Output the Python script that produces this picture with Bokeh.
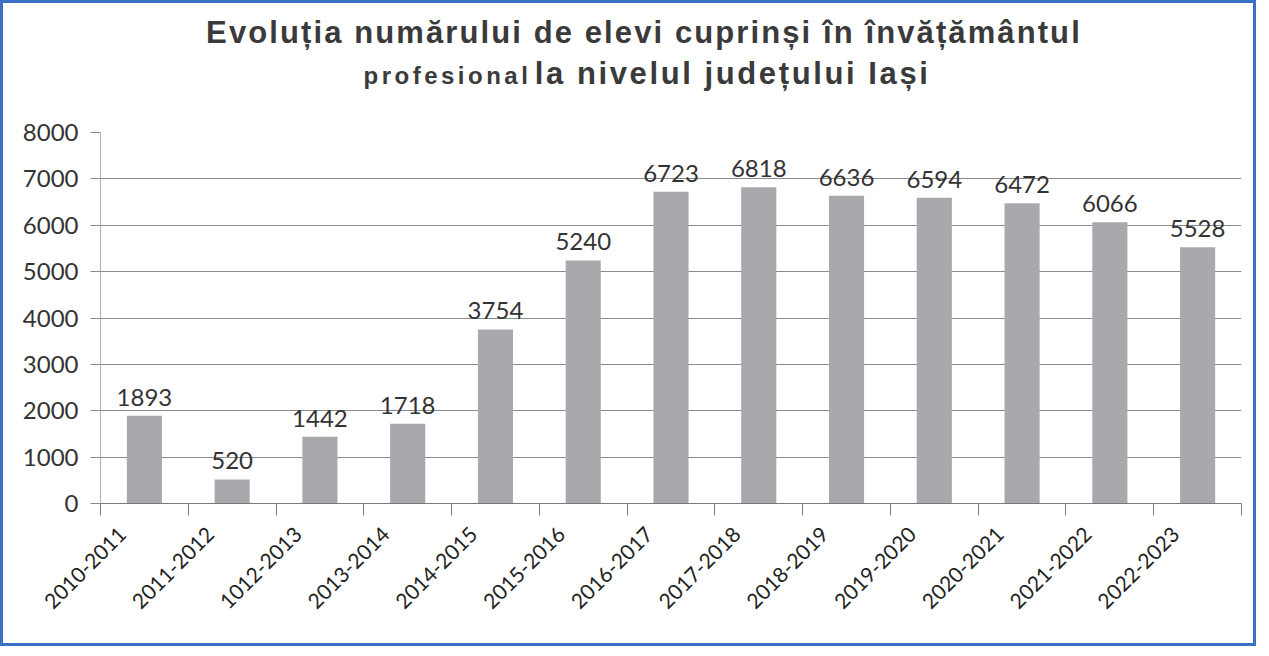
import numpy as np
from bokeh.plotting import figure
from bokeh.models import Range1d, FixedTicker, ColumnDataSource, Div
from bokeh.layouts import column
from bokeh.embed import file_html
from bokeh.resources import INLINE
from bokeh.core.properties import value

years = ["2010-2011", "2011-2012", "1012-2013", "2013-2014", "2014-2015",
         "2015-2016", "2016-2017", "2017-2018", "2018-2019", "2019-2020",
         "2020-2021", "2021-2022", "2022-2023"]
students = [1893, 520, 1442, 1718, 3754, 5240, 6723, 6818, 6636, 6594, 6472, 6066, 5528]
y_ticks = [0, 1000, 2000, 3000, 4000, 5000, 6000, 7000, 8000]
title_line1 = "Evoluția numărului de elevi cuprinși în învățământul"
title_line2a = "profesional"
title_line2b = "la nivelul județului Iași"

BLUE = "#3c6fc6"
INNER_W = 1240

n = len(years)
pos = np.arange(n)
src = ColumnDataSource(dict(x=pos, y=students, lbl=[str(v) for v in students]))

title_html = (
    f"<div style=\"width:{INNER_W}px;box-sizing:border-box;font-family:'Liberation Sans',Arial,sans-serif;"
    "font-weight:bold;color:#3a3a3a;text-align:center;padding-left:32px;padding-top:7px;\">"
    f"<div style='font-size:31px;letter-spacing:2.1px;line-height:36px;white-space:nowrap'>{title_line1}</div>"
    "<div style='line-height:46px;white-space:nowrap;padding-left:6px'>"
    f"<span style='font-size:24px;letter-spacing:3.5px'>{title_line2a}</span> "
    f"<span style='font-size:31px;letter-spacing:2.6px'>{title_line2b}</span></div></div>"
)
title_div = Div(text=title_html, width=INNER_W, height=90,
                styles={"background-color": "white"})

p = figure(width=INNER_W, height=540, output_backend="svg", toolbar_location=None,
           x_range=Range1d(-0.5, n - 0.5), y_range=Range1d(0, 8000),
           min_border_left=97, min_border_right=2, min_border_top=29, min_border_bottom=140)
p.outline_line_color = None
p.background_fill_color = "white"
p.border_fill_color = "white"

p.vbar(x="x", top="y", width=0.4, source=src, fill_color="#a7a9ac", line_color=None)
p.text(x="x", y="y", text="lbl", source=src, text_align="center", text_baseline="bottom",
       y_offset=-10, text_font=value("Lato"), text_font_size="24px", text_color="#333333")

p.xgrid.grid_line_color = None
p.ygrid.grid_line_color = "#8a8a8a"
p.ygrid.grid_line_width = 1

p.yaxis.ticker = FixedTicker(ticks=y_ticks)
p.yaxis.axis_line_color = "#b0b0b0"
p.yaxis.major_tick_line_color = "#8a8a8a"
p.yaxis.major_tick_out = 10
p.yaxis.major_tick_in = 0
p.yaxis.minor_tick_line_color = None
p.yaxis.major_label_text_font = "Lato"
p.yaxis.major_label_text_font_size = "24px"
p.yaxis.major_label_text_color = "#333333"
p.yaxis.major_label_standoff = 12

label_ticks = [float(i) - 0.25 for i in pos]
p.xaxis.ticker = FixedTicker(ticks=label_ticks, minor_ticks=[float(i) - 0.5 for i in range(n + 1)])
p.xaxis.major_label_overrides = {t: years[i] for i, t in enumerate(label_ticks)}
p.xaxis.major_tick_line_color = None
p.xaxis.minor_tick_line_color = "#7a7a7a"
p.xaxis.minor_tick_out = 12
p.xaxis.minor_tick_in = 0
p.xaxis.axis_line_color = "#7a7a7a"
p.xaxis.major_label_orientation = np.pi / 4
p.xaxis.major_label_text_font = "Lato"
p.xaxis.major_label_text_font_size = "21px"
p.xaxis.major_label_text_color = "#222222"
p.xaxis.major_label_standoff = 15

boxed = column(title_div, p, styles={"border": f"3px solid {BLUE}", "background-color": "white"})

open("out.html", "w").write(file_html(boxed, INLINE))
